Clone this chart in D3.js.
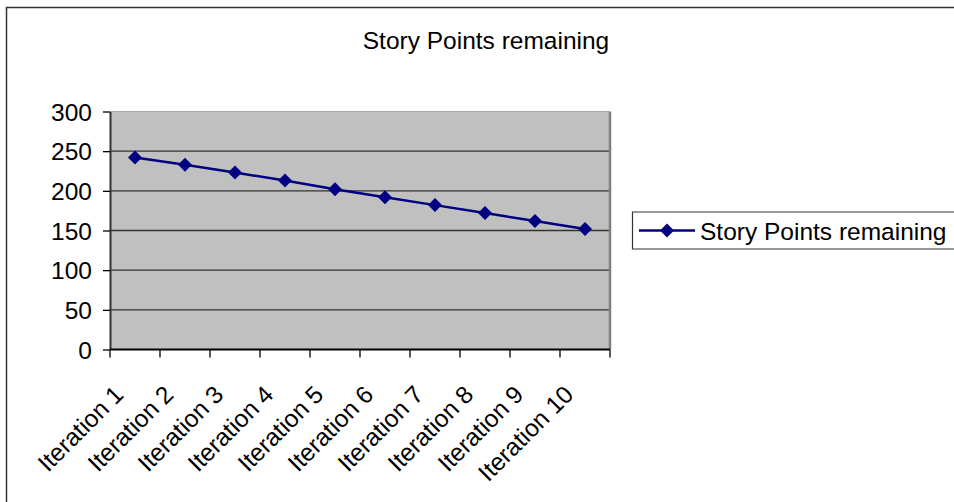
<!DOCTYPE html>
<html>
<head>
<meta charset="utf-8">
<script src="https://cdn.jsdelivr.net/npm/d3@7"></script>
<style>
  html, body { margin: 0; padding: 0; background: #fff; }
  svg { display: block; font-family: "Liberation Sans", Arial, sans-serif; }
</style>
</head>
<body>
<svg id="chart" width="954" height="502"></svg>
<script>
// Burndown data: remaining story points per iteration
const categories = ["Iteration 1", "Iteration 2", "Iteration 3", "Iteration 4", "Iteration 5",
                    "Iteration 6", "Iteration 7", "Iteration 8", "Iteration 9", "Iteration 10"];
const remaining = [242, 233, 223, 213, 202, 192, 182, 172, 162, 152];
const yTicks = [0, 50, 100, 150, 200, 250, 300];
const seriesName = "Story Points remaining";
const chartTitle = "Story Points remaining";

const svg = d3.select("#chart");
const plot = { left: 110, top: 111.5, right: 610, bottom: 349.5 };
const navy = "#000080";
const fontSize = 24.5;

// Outer chart frame (open on the right and bottom edges)
svg.append("path")
  .attr("d", `M6.5,502 V7.5 H954`)
  .attr("fill", "none").attr("stroke", "#333").attr("stroke-width", 1.5);

// Title
svg.append("text")
  .attr("x", 486).attr("y", 49)
  .attr("text-anchor", "middle")
  .attr("font-size", fontSize)
  .text(chartTitle);

const x = d3.scaleBand().domain(categories).range([plot.left, plot.right]).padding(0);
const y = d3.scaleLinear().domain([0, 300]).range([plot.bottom, plot.top]);

// Plot area background
svg.append("rect")
  .attr("x", plot.left).attr("y", plot.top)
  .attr("width", plot.right - plot.left).attr("height", plot.bottom - plot.top)
  .attr("fill", "#c0c0c0");

// Horizontal gridlines
svg.append("g").selectAll("line")
  .data(yTicks.filter(t => t > 0 && t < 300))
  .join("line")
  .attr("x1", plot.left).attr("x2", plot.right)
  .attr("y1", d => y(d)).attr("y2", d => y(d))
  .attr("stroke", "#333").attr("stroke-width", 1.3);

// Plot area borders
svg.append("line")
  .attr("x1", plot.right).attr("x2", plot.right)
  .attr("y1", plot.top).attr("y2", plot.bottom)
  .attr("stroke", "#808080").attr("stroke-width", 2.5);
svg.append("line")
  .attr("x1", plot.left).attr("x2", plot.right)
  .attr("y1", plot.top).attr("y2", plot.top)
  .attr("stroke", "#a8a8a8").attr("stroke-width", 1);

// Y axis
const yAxis = d3.axisLeft(y).tickValues(yTicks).tickSize(7).tickPadding(11).tickSizeOuter(0);
const gy = svg.append("g").attr("transform", `translate(${plot.left},0)`).call(yAxis);
gy.select(".domain").attr("stroke", "#333").attr("stroke-width", 2);
gy.selectAll(".tick line").attr("stroke", "#000").attr("stroke-width", 1.3);
gy.selectAll(".tick text").attr("font-size", fontSize).attr("fill", "#000")
  .attr("font-family", "'Liberation Sans', Arial, sans-serif").attr("dy", "0.36em");

// X axis: ticks at category boundaries, labels rotated
const gx = svg.append("g").attr("transform", `translate(0,${plot.bottom})`);
gx.append("line")
  .attr("x1", plot.left).attr("x2", plot.right)
  .attr("stroke", "#000").attr("stroke-width", 2);
const boundaries = categories.map(c => x(c)).concat([x(categories[categories.length - 1]) + x.bandwidth()]);
gx.selectAll("line.tick")
  .data(boundaries)
  .join("line").attr("class", "tick")
  .attr("x1", d => d).attr("x2", d => d)
  .attr("y1", 0).attr("y2", 8)
  .attr("stroke", "#000").attr("stroke-width", 1.3);
gx.selectAll("text")
  .data(categories)
  .join("text")
  .attr("transform", d => `translate(${x(d) + x.bandwidth() / 2 - 10},${46.5}) rotate(-45)`)
  .attr("text-anchor", "end")
  .attr("font-size", fontSize)
  .text(d => d);

// Series line
const cx = d => x(d) + x.bandwidth() / 2;
const line = d3.line().x((d, i) => cx(categories[i])).y(d => y(d));
svg.append("path")
  .datum(remaining)
  .attr("d", line)
  .attr("fill", "none").attr("stroke", navy).attr("stroke-width", 2.5);

// Diamond markers
const diamond = d3.symbol().type(d3.symbolSquare).size(98);
svg.append("g").selectAll("path")
  .data(remaining)
  .join("path")
  .attr("d", diamond)
  .attr("transform", (d, i) => `translate(${cx(categories[i])},${y(d)}) rotate(45)`)
  .attr("fill", navy);

// Legend
const legend = svg.append("g");
legend.append("path")
  .attr("d", "M954,212 H632.5 V249 H954")
  .attr("fill", "#fff").attr("stroke", "#333").attr("stroke-width", 1.2);
legend.append("line")
  .attr("x1", 639).attr("x2", 695).attr("y1", 230.5).attr("y2", 230.5)
  .attr("stroke", navy).attr("stroke-width", 2.5);
legend.append("path")
  .attr("d", diamond)
  .attr("transform", "translate(667,230.5) rotate(45)")
  .attr("fill", navy);
legend.append("text")
  .attr("x", 700).attr("y", 231)
  .attr("dy", "0.35em")
  .attr("font-size", fontSize)
  .text(seriesName);
</script>
</body>
</html>
